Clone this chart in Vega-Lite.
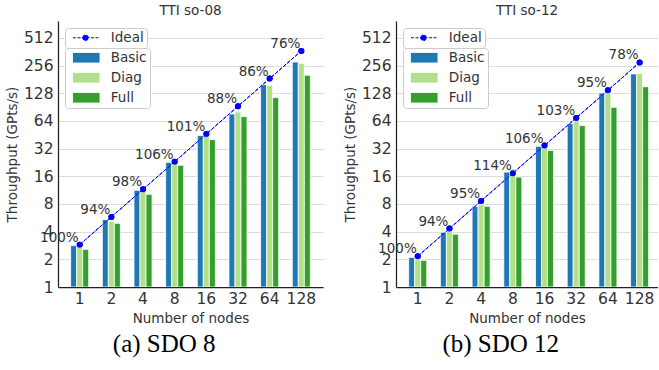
{
  "$schema": "https://vega.github.io/schema/vega-lite/v6.json",
  "padding": {"left": 5, "top": 3, "right": 0, "bottom": 0},
  "background": "white",
  "config": {
    "view": {"stroke": null},
    "font": "DejaVu Sans",
    "title": {"font": "DejaVu Sans", "fontSize": 13.5, "fontWeight": "normal", "color": "#333333", "offset": 4},
    "axis": {"labelFont": "DejaVu Sans", "titleFont": "DejaVu Sans", "labelColor": "#333333", "titleColor": "#333333", "titleFontWeight": "normal"},
    "legend": {"titleFont": "DejaVu Sans", "labelFont": "DejaVu Sans",
               "layout": {"direction": "vertical", "margin": 0, "top-left": {"direction": "vertical", "margin": 0}}}
  },
  "datasets": {
    "bars8": [
      {"nodes": 1, "series": "Basic", "value": 2.82}, {"nodes": 1, "series": "Diag", "value": 2.72}, {"nodes": 1, "series": "Full", "value": 2.57},
      {"nodes": 2, "series": "Basic", "value": 5.41}, {"nodes": 2, "series": "Diag", "value": 5.19}, {"nodes": 2, "series": "Full", "value": 4.93},
      {"nodes": 4, "series": "Basic", "value": 11.27}, {"nodes": 4, "series": "Diag", "value": 11.3}, {"nodes": 4, "series": "Full", "value": 10.2},
      {"nodes": 8, "series": "Basic", "value": 22.7}, {"nodes": 8, "series": "Diag", "value": 21.6}, {"nodes": 8, "series": "Full", "value": 21.1},
      {"nodes": 16, "series": "Basic", "value": 44.4}, {"nodes": 16, "series": "Diag", "value": 44.0}, {"nodes": 16, "series": "Full", "value": 40.1},
      {"nodes": 32, "series": "Basic", "value": 76.2}, {"nodes": 32, "series": "Diag", "value": 80.2}, {"nodes": 32, "series": "Full", "value": 71.4},
      {"nodes": 64, "series": "Basic", "value": 159}, {"nodes": 64, "series": "Diag", "value": 156}, {"nodes": 64, "series": "Full", "value": 115},
      {"nodes": 128, "series": "Basic", "value": 280}, {"nodes": 128, "series": "Diag", "value": 271}, {"nodes": 128, "series": "Full", "value": 201}
    ],
    "ideal8": [
      {"nodes": 1, "ideal": 2.89, "pct": "100%", "label": "Ideal"}, {"nodes": 2, "ideal": 5.78, "pct": "94%", "label": "Ideal"},
      {"nodes": 4, "ideal": 11.56, "pct": "98%", "label": "Ideal"}, {"nodes": 8, "ideal": 23.1, "pct": "106%", "label": "Ideal"},
      {"nodes": 16, "ideal": 46.2, "pct": "101%", "label": "Ideal"}, {"nodes": 32, "ideal": 92.5, "pct": "88%", "label": "Ideal"},
      {"nodes": 64, "ideal": 185, "pct": "86%", "label": "Ideal"}, {"nodes": 128, "ideal": 370, "pct": "76%", "label": "Ideal"}
    ],
    "bars12": [
      {"nodes": 1, "series": "Basic", "value": 2.10}, {"nodes": 1, "series": "Diag", "value": 2.0}, {"nodes": 1, "series": "Full", "value": 1.95},
      {"nodes": 2, "series": "Basic", "value": 3.94}, {"nodes": 2, "series": "Diag", "value": 4.1}, {"nodes": 2, "series": "Full", "value": 3.76},
      {"nodes": 4, "series": "Basic", "value": 7.55}, {"nodes": 4, "series": "Diag", "value": 7.94}, {"nodes": 4, "series": "Full", "value": 7.55},
      {"nodes": 8, "series": "Basic", "value": 17.8}, {"nodes": 8, "series": "Diag", "value": 19.2}, {"nodes": 8, "series": "Full", "value": 15.7},
      {"nodes": 16, "series": "Basic", "value": 33.9}, {"nodes": 16, "series": "Diag", "value": 33.5}, {"nodes": 16, "series": "Full", "value": 30.5},
      {"nodes": 32, "series": "Basic", "value": 60.2}, {"nodes": 32, "series": "Diag", "value": 64}, {"nodes": 32, "series": "Full", "value": 57},
      {"nodes": 64, "series": "Basic", "value": 129}, {"nodes": 64, "series": "Diag", "value": 130}, {"nodes": 64, "series": "Full", "value": 90},
      {"nodes": 128, "series": "Basic", "value": 208}, {"nodes": 128, "series": "Diag", "value": 211}, {"nodes": 128, "series": "Full", "value": 151}
    ],
    "ideal12": [
      {"nodes": 1, "ideal": 2.16, "pct": "100%", "label": "Ideal"}, {"nodes": 2, "ideal": 4.32, "pct": "94%", "label": "Ideal"},
      {"nodes": 4, "ideal": 8.64, "pct": "95%", "label": "Ideal"}, {"nodes": 8, "ideal": 17.3, "pct": "114%", "label": "Ideal"},
      {"nodes": 16, "ideal": 34.6, "pct": "106%", "label": "Ideal"}, {"nodes": 32, "ideal": 69.1, "pct": "103%", "label": "Ideal"},
      {"nodes": 64, "ideal": 138, "pct": "95%", "label": "Ideal"}, {"nodes": 128, "ideal": 277, "pct": "78%", "label": "Ideal"}
    ]
  },
  "hconcat": [
    {
      "title": {"text": "(a) SDO 8", "orient": "bottom", "anchor": "middle", "font": "Liberation Serif", "fontSize": 25, "color": "#000000", "offset": 7},
      "resolve": {"scale": {"color": "independent", "fill": "independent"}, "legend": {"color": "independent", "fill": "independent"}},
      "vconcat": [
        {
          "width": 265, "height": 266,
          "title": {"text": "TTI so-08"},
          "encoding": {
            "x": {"field": "nodes", "type": "ordinal", "title": "Number of nodes",
                  "scale": {"paddingInner": 0.43, "paddingOuter": 0.4},
                  "axis": {"labelAngle": 0, "ticks": false, "domainColor": "#222222", "domainWidth": 1.25, "labelFontSize": 15.5, "labelPadding": 4, "titleFontSize": 13.5, "titlePadding": 5, "zindex": 1}}
          },
          "layer": [
            {
              "data": {"name": "ideal8"},
              "mark": {"type": "line", "strokeWidth": 1, "strokeDash": [3.7, 1.6], "point": {"filled": true, "size": 36}},
              "encoding": {
                "y": {"field": "ideal", "type": "quantitative", "title": "Throughput (GPts/s)",
                      "scale": {"type": "log", "base": 2, "domain": [1, 783], "nice": false},
                      "axis": {"values": [1, 2, 4, 8, 16, 32, 64, 128, 256, 512], "format": "d", "ticks": false, "grid": true, "gridColor": "#dddddd", "gridWidth": 1, "domainColor": "#222222", "domainWidth": 1.25, "labelFontSize": 15.5, "labelPadding": 5, "titleFontSize": 13.5, "titlePadding": 4}},
                "color": {"field": "label", "type": "nominal", "scale": {"domain": ["Ideal"], "range": ["#0000ff"]},
                          "legend": {"title": null, "orient": "top-left", "offset": 7, "padding": 3,
                                     "fillColor": "#ffffff", "strokeColor": "#cccccc", "cornerRadius": 3,
                                     "labelFontSize": 13.5, "labelColor": "#333333", "labelOffset": 29.3,
                                     "symbolSize": 121, "symbolOpacity": 1, "symbolStrokeWidth": 1, "symbolDash": [3, 1.5],
                                     "symbolFillColor": "#0000ff", "symbolStrokeColor": "#0000ff",
                                     "symbolType": "M-0.33,0H4.51M1.44,0A0.52,0.52 0 1,0 2.48,0A0.52,0.52 0 1,0 1.44,0Z"}}
              }
            },
            {
              "data": {"name": "bars8"},
              "mark": {"type": "bar", "stroke": "white", "strokeWidth": 0.8},
              "encoding": {
                "xOffset": {"field": "series", "type": "nominal", "scale": {"domain": ["Basic", "Diag", "Full"], "paddingInner": 0, "paddingOuter": 0}},
                "y": {"field": "value", "type": "quantitative"},
                "y2": {"datum": 1},
                "fill": {"field": "series", "type": "nominal",
                          "scale": {"domain": ["Basic", "Diag", "Full"], "range": ["#1f77b4", "#b2df8a", "#33a02c"]},
                          "legend": {"title": null, "orient": "top-left", "offset": 7, "padding": 3,
                                     "fillColor": "#ffffff", "strokeColor": "#cccccc", "cornerRadius": 3,
                                     "labelFontSize": 13.5, "labelColor": "#333333", "labelOffset": 29.3,
                                     "symbolSize": 121, "rowPadding": 5, "symbolOpacity": 1, "symbolStrokeWidth": 0,
                                     "symbolType": "M-0.33,-0.88H4.51V0.88H-0.33Z"}}
              }
            },
            {
              "data": {"name": "ideal8"},
              "mark": {"type": "line", "strokeWidth": 1, "strokeDash": [3.7, 1.6], "color": "#0000ff", "point": {"filled": true, "size": 36, "color": "#0000ff"}},
              "encoding": {
                "y": {"field": "ideal", "type": "quantitative"}
              }
            },
            {
              "data": {"name": "ideal8"},
              "mark": {"type": "text", "align": "right", "baseline": "alphabetic", "dx": -1, "dy": -3, "fontSize": 13.5, "font": "DejaVu Sans", "color": "#333333"},
              "encoding": {
                "y": {"field": "ideal", "type": "quantitative"},
                "text": {"field": "pct"}
              }
            }
          ]
        }
      ]
    },
    {
      "title": {"text": "(b) SDO 12", "orient": "bottom", "anchor": "middle", "font": "Liberation Serif", "fontSize": 25, "color": "#000000", "offset": 7},
      "resolve": {"scale": {"color": "independent", "fill": "independent"}, "legend": {"color": "independent", "fill": "independent"}},
      "vconcat": [
        {
          "width": 262, "height": 266,
          "title": {"text": "TTI so-12"},
          "encoding": {
            "x": {"field": "nodes", "type": "ordinal", "title": "Number of nodes",
                  "scale": {"paddingInner": 0.43, "paddingOuter": 0.3475, "align": 0.576},
                  "axis": {"labelAngle": 0, "ticks": false, "domainColor": "#222222", "domainWidth": 1.25, "labelFontSize": 15.5, "labelPadding": 4, "titleFontSize": 13.5, "titlePadding": 5, "zindex": 1}}
          },
          "layer": [
            {
              "data": {"name": "ideal12"},
              "mark": {"type": "line", "strokeWidth": 1, "strokeDash": [3.7, 1.6], "point": {"filled": true, "size": 36}},
              "encoding": {
                "y": {"field": "ideal", "type": "quantitative", "title": "Throughput (GPts/s)",
                      "scale": {"type": "log", "base": 2, "domain": [1, 783], "nice": false},
                      "axis": {"values": [1, 2, 4, 8, 16, 32, 64, 128, 256, 512], "format": "d", "ticks": false, "grid": true, "gridColor": "#dddddd", "gridWidth": 1, "domainColor": "#222222", "domainWidth": 1.25, "labelFontSize": 15.5, "labelPadding": 5, "titleFontSize": 13.5, "titlePadding": 4}},
                "color": {"field": "label", "type": "nominal", "scale": {"domain": ["Ideal"], "range": ["#0000ff"]},
                          "legend": {"title": null, "orient": "top-left", "offset": 7, "padding": 3,
                                     "fillColor": "#ffffff", "strokeColor": "#cccccc", "cornerRadius": 3,
                                     "labelFontSize": 13.5, "labelColor": "#333333", "labelOffset": 29.3,
                                     "symbolSize": 121, "symbolOpacity": 1, "symbolStrokeWidth": 1, "symbolDash": [3, 1.5],
                                     "symbolFillColor": "#0000ff", "symbolStrokeColor": "#0000ff",
                                     "symbolType": "M-0.33,0H4.51M1.44,0A0.52,0.52 0 1,0 2.48,0A0.52,0.52 0 1,0 1.44,0Z"}}
              }
            },
            {
              "data": {"name": "bars12"},
              "mark": {"type": "bar", "stroke": "white", "strokeWidth": 0.8},
              "encoding": {
                "xOffset": {"field": "series", "type": "nominal", "scale": {"domain": ["Basic", "Diag", "Full"], "paddingInner": 0, "paddingOuter": 0}},
                "y": {"field": "value", "type": "quantitative"},
                "y2": {"datum": 1},
                "fill": {"field": "series", "type": "nominal",
                          "scale": {"domain": ["Basic", "Diag", "Full"], "range": ["#1f77b4", "#b2df8a", "#33a02c"]},
                          "legend": {"title": null, "orient": "top-left", "offset": 7, "padding": 3,
                                     "fillColor": "#ffffff", "strokeColor": "#cccccc", "cornerRadius": 3,
                                     "labelFontSize": 13.5, "labelColor": "#333333", "labelOffset": 29.3,
                                     "symbolSize": 121, "rowPadding": 5, "symbolOpacity": 1, "symbolStrokeWidth": 0,
                                     "symbolType": "M-0.33,-0.88H4.51V0.88H-0.33Z"}}
              }
            },
            {
              "data": {"name": "ideal12"},
              "mark": {"type": "line", "strokeWidth": 1, "strokeDash": [3.7, 1.6], "color": "#0000ff", "point": {"filled": true, "size": 36, "color": "#0000ff"}},
              "encoding": {
                "y": {"field": "ideal", "type": "quantitative"}
              }
            },
            {
              "data": {"name": "ideal12"},
              "mark": {"type": "text", "align": "right", "baseline": "alphabetic", "dx": -1, "dy": -3, "fontSize": 13.5, "font": "DejaVu Sans", "color": "#333333"},
              "encoding": {
                "y": {"field": "ideal", "type": "quantitative"},
                "text": {"field": "pct"}
              }
            }
          ]
        }
      ]
    }
  ],
  "spacing": 20,
  "resolve": {"scale": {"color": "independent", "fill": "independent"}, "legend": {"color": "independent", "fill": "independent"}}
}
